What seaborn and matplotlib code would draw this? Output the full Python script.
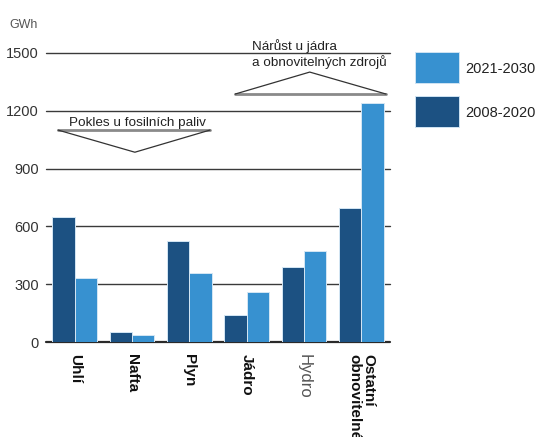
import matplotlib
matplotlib.use("Agg")
import matplotlib.pyplot as plt
from matplotlib.patches import Rectangle
import seaborn as sns
import pandas as pd

# Energy production by source, two periods (GWh)
categories = ["Uhlí", "Nafta", "Plyn", "Jádro", "Hydro", "Ostatní\nobnovitelné"]
periods = ["2008-2020", "2021-2030"]
v_2008_2020 = [650, 50, 525, 140, 387, 693]
v_2021_2030 = [330, 35, 360, 260, 473, 1240]
yticks = [0, 300, 600, 900, 1200, 1500]
unit_label = "GWh"
note_down = "Pokles u fosilních paliv"
note_up = "Nárůst u jádra\na obnovitelných zdrojů"

colors = {"2008-2020": "#1c5182", "2021-2030": "#3791d0"}

df = pd.DataFrame({
    "kategorie": categories * 2,
    "obdobi": [periods[0]] * len(categories) + [periods[1]] * len(categories),
    "GWh": v_2008_2020 + v_2021_2030,
})

sns.set_style("white")
plt.rcParams["font.family"] = ["Liberation Sans", "DejaVu Sans"]

W, H = 536, 437
fig = plt.figure(figsize=(W / 100, H / 100), dpi=100)
ax = fig.add_axes([46 / W, 1 - 342 / H, 344 / W, 289 / H])

sns.barplot(data=df, x="kategorie", y="GWh", hue="obdobi", hue_order=periods,
            palette=colors, saturation=1, width=0.78, edgecolor="#d4e6f4",
            linewidth=0.7, ax=ax, legend=False, zorder=3)

ax.set_xlim(-0.5, len(categories) - 0.5)
ax.set_ylim(0, 1500)
ax.set_yticks(yticks)
ax.set_yticklabels([str(t) for t in yticks], fontsize=10.5, color="#333333")
for t in yticks:
    ax.axhline(t, color="#3a3a3a" if t else "#2a2a2a", lw=1.0 if t else 1.6,
               zorder=2, clip_on=False)
for s in ax.spines.values():
    s.set_visible(False)
ax.tick_params(axis="y", length=0, pad=5)
ax.tick_params(axis="x", length=0, pad=9)
ax.set_xlabel("")
ax.set_ylabel("")

ax.set_xticks(range(len(categories)))
ax.set_xticklabels(categories, rotation=270, fontsize=11, ha="center",
                   va="top", rotation_mode="default", multialignment="left",
                   linespacing=0.95)
for lbl in ax.get_xticklabels():
    if lbl.get_text() == "Hydro":
        lbl.set_fontweight("normal")
        lbl.set_color("#555555")
        lbl.set_fontsize(12)
    else:
        lbl.set_fontweight("bold")
        lbl.set_color("#111111")

fig.text(9 / W, 1 - 25 / H, unit_label, fontsize=9, color="#555555",
         va="center", ha="left")

# Downward trend marker over fossil fuels
ax.plot([-0.29, 2.36], [1100, 1100], color="#8a8a8a", lw=2, zorder=4, clip_on=False)
ax.plot([-0.29, 1.05, 2.36], [1100, 985, 1100], color="#333333", lw=0.9,
        zorder=5, clip_on=False)
ax.text(-0.1, 1121, note_down, fontsize=9.7, color="#222222", ha="left",
        va="baseline", clip_on=False)

# Upward trend marker over nuclear and renewables
ax.plot([2.80, 5.43], [1287, 1287], color="#8a8a8a", lw=2, zorder=4, clip_on=False)
ax.plot([2.80, 4.1, 5.43], [1287, 1401, 1287], color="#333333", lw=0.9,
        zorder=5, clip_on=False)
ax.text(3.09, 1415, note_up, fontsize=9.7, color="#222222", ha="left",
        va="bottom", linespacing=1.2, clip_on=False)

# Legend: newer period on top
for i, p in enumerate(reversed(periods)):
    top = 52 + i * 44
    fig.add_artist(Rectangle((415 / W, 1 - (top + 31) / H), 44 / W, 31 / H,
                             transform=fig.transFigure, facecolor=colors[p],
                             edgecolor="#cfe3f3", lw=0.7))
    fig.text(465 / W, 1 - (top + 17) / H, p, fontsize=10.5, color="#222222",
             va="center", ha="left")

fig.savefig("out.png", dpi=100)
